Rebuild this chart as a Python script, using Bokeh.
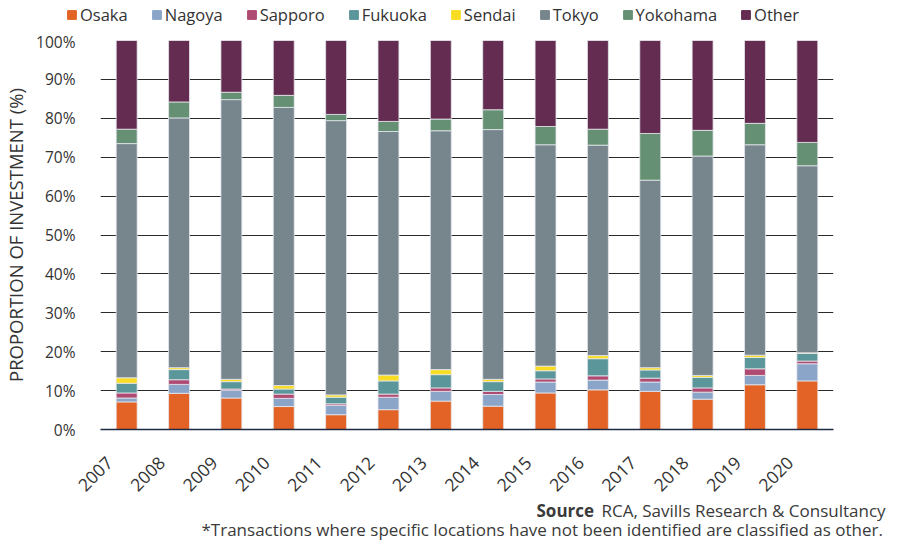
from bokeh.plotting import figure
from bokeh.layouts import column
from bokeh.models import NumeralTickFormatter, FixedTicker, Range1d
from bokeh.embed import file_html
from bokeh.resources import INLINE
from bokeh.core.properties import value
import math

years = ["2007", "2008", "2009", "2010", "2011", "2012", "2013",
         "2014", "2015", "2016", "2017", "2018", "2019", "2020"]
cities = ["Osaka", "Nagoya", "Sapporo", "Fukuoka", "Sendai", "Tokyo", "Yokohama", "Other"]
colors = ["#E26325", "#8BA5C9", "#AF4A72", "#5B969A", "#F9DD24", "#77858D", "#659073", "#632C50"]

osaka    = [7.1, 9.3, 8.1, 5.9, 3.8, 5.1, 7.3, 6.0, 9.4, 10.2, 9.8, 7.8, 11.5, 12.5]
nagoya   = [1.0, 2.3, 2.0, 2.1, 2.4, 3.2, 2.5, 3.0, 2.8, 2.5, 2.4, 1.8, 2.4, 4.4]
sapporo  = [1.3, 1.2, 0.3, 1.1, 0.4, 0.8, 0.9, 0.8, 0.8, 1.1, 1.0, 1.1, 1.7, 0.7]
fukuoka  = [2.5, 2.6, 1.9, 1.3, 1.7, 3.4, 3.4, 2.5, 2.1, 4.4, 2.1, 2.7, 2.9, 2.0]
sendai   = [1.4, 0.5, 0.6, 0.9, 0.6, 1.5, 1.3, 0.6, 1.2, 0.8, 0.6, 0.5, 0.6, 0.1]
tokyo    = [60.2, 64.2, 71.9, 71.5, 70.5, 62.6, 61.4, 64.2, 56.9, 54.1, 48.2, 56.4, 54.1, 48.1]
yokohama = [3.7, 4.1, 1.9, 3.1, 1.6, 2.6, 3.0, 5.1, 4.7, 4.1, 12.0, 6.6, 5.5, 6.0]
other    = [22.8, 15.8, 13.3, 14.1, 19.0, 20.8, 20.2, 17.8, 22.1, 22.8, 23.9, 23.1, 21.3, 26.2]

y_ticks = [0, 10, 20, 30, 40, 50, 60, 70, 80, 90, 100]
source_bold = "Source"
source_text = "RCA, Savills Research & Consultancy"
note_text = "*Transactions where specific locations have not been identified are classified as other."

series = [osaka, nagoya, sapporo, fukuoka, sendai, tokyo, yokohama, other]
xpos = list(range(len(years)))
data = {"x": xpos}
for name, vals in zip(cities, series):
    data[name] = list(vals)
for i in range(len(years)):
    tot = sum(data[c][i] for c in cities)
    for c in cities:
        data[c][i] = data[c][i] / tot

FONT = "Open Sans"
TXT = "#333333"
W = 899
HEAD_H = 30
FOOT_H = 41
MAIN_H = 541 - HEAD_H - FOOT_H


def bare(fig):
    fig.outline_line_color = None
    fig.xaxis.visible = False
    fig.yaxis.visible = False
    fig.xgrid.grid_line_color = None
    fig.ygrid.grid_line_color = None
    fig.background_fill_color = "white"
    fig.border_fill_color = "white"


# ---------- header with legend ----------
head = figure(width=W, height=HEAD_H, x_range=Range1d(0, W), y_range=Range1d(0, HEAD_H),
              output_backend="svg", toolbar_location=None, frame_align=False,
              min_border=0, min_border_left=0, min_border_right=0, min_border_top=0, min_border_bottom=0)
bare(head)
# legend swatches only (zero-height glyphs kept outside the visible header range)
for c, col in zip(cities, colors):
    head.vbar(x=[-50], top=[0], width=0.4, color=col, legend_label=c)
lg = head.legend[0]
lg.orientation = "horizontal"
lg.location = (66, 4)
lg.label_text_font = FONT
lg.label_text_font_size = "16.5px"
lg.label_text_color = TXT
lg.glyph_width = 11
lg.glyph_height = 11
lg.label_standoff = 3
lg.spacing = 23
lg.padding = 0
lg.margin = 0
lg.border_line_color = None
lg.background_fill_alpha = 0

# ---------- main chart ----------
p = figure(x_range=Range1d(-0.5, len(years) - 0.5), y_range=Range1d(0, 1),
           width=W, height=MAIN_H, output_backend="svg", toolbar_location=None,
           frame_align=False,
           min_border_left=90, min_border_right=66, min_border_top=10, min_border_bottom=71)
p.outline_line_color = None
p.background_fill_color = "white"
p.border_fill_color = "white"

p.vbar_stack(cities, x="x", width=0.4, source=data, color=colors,
             line_color="#e6e9ee", line_width=0.8)

p.yaxis.ticker = FixedTicker(ticks=[t / 100 for t in y_ticks])
p.yaxis.formatter = NumeralTickFormatter(format="0%")
p.yaxis.axis_line_color = None
p.yaxis.major_tick_line_color = None
p.yaxis.minor_tick_line_color = None
p.yaxis.major_label_text_font = FONT
p.yaxis.major_label_text_font_size = "15.5px"
p.yaxis.major_label_text_color = TXT
p.yaxis.major_label_standoff = 19
p.yaxis.axis_label = "PROPORTION OF INVESTMENT (%)"
p.yaxis.axis_label_text_font = FONT
p.yaxis.axis_label_text_font_size = "18.5px"
p.yaxis.axis_label_text_font_style = "normal"
p.yaxis.axis_label_text_color = TXT
p.yaxis.axis_label_standoff = 5

# year labels sit slightly left of each bar, as in the reference
shift = 0.33
label_pos = [i - shift for i in xpos]
p.xaxis.ticker = FixedTicker(ticks=label_pos)
p.xaxis.major_label_overrides = {pos: y for pos, y in zip(label_pos, years)}
p.xaxis.axis_line_color = "#1e2a44"
p.xaxis.axis_line_width = 1.5
p.xaxis.major_tick_line_color = None
p.xaxis.minor_tick_line_color = None
p.xaxis.major_label_orientation = math.pi / 4
p.xaxis.major_label_text_font = FONT
p.xaxis.major_label_text_font_size = "17.5px"
p.xaxis.major_label_text_color = TXT
p.xaxis.major_label_standoff = 24

p.xgrid.grid_line_color = None
p.ygrid.grid_line_color = "#2a2a2a"
p.ygrid.grid_line_width = 1.2

# ---------- footer ----------
foot = figure(width=W, height=FOOT_H, x_range=Range1d(0, W), y_range=Range1d(0, FOOT_H),
              output_backend="svg", toolbar_location=None, frame_align=False,
              min_border=0, min_border_left=0, min_border_right=0, min_border_top=0, min_border_bottom=0)
bare(foot)
foot.text(x=[536], y=[FOOT_H - 10], text=[source_bold], text_font=value(FONT),
          text_font_size="17px", text_font_style="bold", text_color="#3a3a3a",
          text_baseline="middle", text_align="left")
foot.text(x=[601], y=[FOOT_H - 10], text=[source_text], text_font=value(FONT),
          text_font_size="17px", text_color="#3a3a3a",
          text_baseline="middle", text_align="left")
foot.text(x=[201], y=[FOOT_H - 29], text=[note_text], text_font=value(FONT),
          text_font_size="17px", text_color="#3a3a3a",
          text_baseline="middle", text_align="left")

layout = column(head, p, foot, spacing=0)
open("out.html", "w").write(file_html(layout, INLINE))
